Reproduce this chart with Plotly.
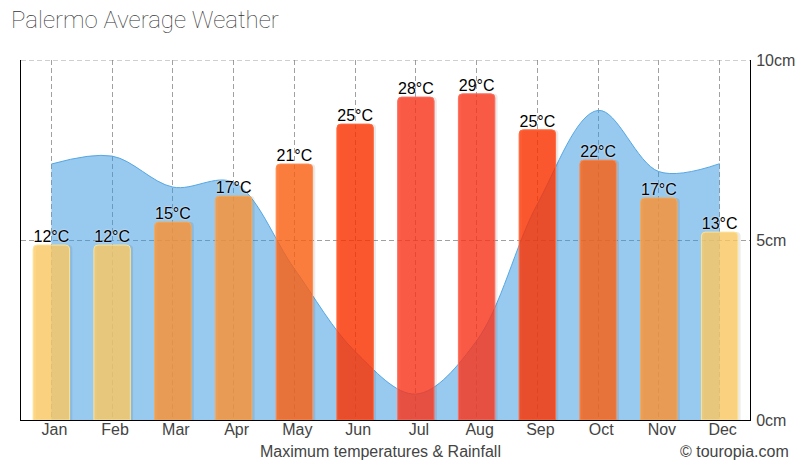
import plotly.graph_objects as go

months = ["Jan","Feb","Mar","Apr","May","Jun","Jul","Aug","Sep","Oct","Nov","Dec"]
rain_cm = [7.11,7.33,6.47,6.6,4.2,1.9,0.72,2.2,6.0,8.6,6.9,7.12]
bar_heights = [4.86,4.86,5.5,6.22,7.11,8.22,8.97,9.06,8.06,7.22,6.17,5.22]
temp_labels = ["12°C","12°C","15°C","17°C","21°C","25°C","28°C","29°C","25°C","22°C","17°C","13°C"]
rain_ticks = [0,5,10]
rain_tick_labels = ["0cm","5cm","10cm"]
bar_colors = ["rgba(253,203,100,.8)","rgba(253,203,100,.8)","rgba(255,148,50,.8)","rgba(255,148,50,.8)",
              "rgba(255,97,18,.8)","rgba(255,50,0,.8)","rgba(252,54,28,.8)","rgba(252,54,28,.8)",
              "rgba(255,50,0,.8)","rgba(255,97,18,.8)","rgba(255,148,50,.8)","rgba(253,203,100,.8)"]
edge_colors = ["#FBE49B","#FBE49B","#F2AC5C","#F2AC5C","#FF8C50","#FF6A3C","#FB7060","#FB7060",
               "#FF6A3C","#FF8C50","#F2AC5C","#FBE49B"]

GRID = "rgba(120,120,120,.7)"
TXT = "#444"
LABEL_LIFT = 0.19
fig = go.Figure()
fig.add_trace(go.Scatter(x=months, y=rain_cm, mode="lines", line=dict(shape="spline", smoothing=1, color="#55A8E4", width=1),
                         fill="tozeroy", fillcolor="rgba(49,147,224,.5)", hoverinfo="skip", showlegend=False))
fig.add_trace(go.Bar(x=months, y=bar_heights, xaxis="x2", yaxis="y2", width=0.6, offset=-0.255,
                     marker=dict(color="rgba(0,0,0,.08)", line=dict(width=0), cornerradius=4), showlegend=False, hoverinfo="skip"))
fig.add_trace(go.Bar(x=months, y=bar_heights, xaxis="x2", yaxis="y2", width=0.6, offset=-0.3,
                     marker=dict(color=bar_colors, line=dict(color=edge_colors, width=1), cornerradius=4),
                     showlegend=False, hoverinfo="skip"))
fig.add_trace(go.Scatter(x=months, y=[h + LABEL_LIFT for h in bar_heights], xaxis="x2", yaxis="y2", mode="text",
                         text=temp_labels, textposition="middle center", cliponaxis=False,
                         textfont=dict(family="Liberation Sans", size=16, color="#000", shadow="0 0 2px #fff"),
                         showlegend=False, hoverinfo="skip"))
ax_common = dict(type="category", categoryorder="array", categoryarray=months, range=[-0.5, 11.5])
fig.update_layout(
    width=810, height=470, autosize=False, margin=dict(l=21, r=60, t=60, b=50),
    paper_bgcolor="#fff", plot_bgcolor="#fff", barmode="overlay",
    font=dict(family="Liberation Sans", color=TXT, size=16),
    xaxis=dict(**ax_common, showline=True, linecolor="#000", linewidth=1, showgrid=True, gridcolor=GRID, griddash="5px,3px",
               gridwidth=1, ticks="", ticklabelshift=3, ticklabelstandoff=-5, zeroline=False,
               tickfont=dict(size=16, color=TXT)),
    xaxis2=dict(**ax_common, overlaying="x", visible=False),
    yaxis=dict(range=[0,10], tickmode="array", tickvals=rain_ticks, ticktext=rain_tick_labels, side="right", showline=True, mirror=True, linecolor="#000",
               linewidth=1, showgrid=True, gridcolor=GRID, griddash="5px,3px", gridwidth=1, zeroline=False, ticks="",
               ticklabelstandoff=2, tickfont=dict(size=16, color=TXT)),
    yaxis2=dict(range=[0,10], overlaying="y", visible=False),
    shapes=[dict(type="line", xref="paper", x0=0, x1=1, yref="y", y0=rain_ticks[-1], y1=rain_ticks[-1], layer="below",
                 line=dict(color=GRID, width=1, dash="5px,3px"))],
    annotations=[
        dict(text="Palermo Average Weather", xref="paper", yref="paper", x=0, xshift=-12, y=1, yshift=24, xanchor="left", yanchor="bottom",
             showarrow=False, font=dict(family="Roboto", size=24, color="#333", weight=100)),
        dict(text="Maximum temperatures & Rainfall", xref="paper", yref="paper", x=0.5, xshift=-5, y=0, yshift=-31, xanchor="center", yanchor="middle",
             showarrow=False, font=dict(size=16, color=TXT)),
        dict(text="© touropia.com", xref="paper", yref="paper", x=1, xshift=41, y=0, yshift=-31, xanchor="right", yanchor="middle",
             showarrow=False, font=dict(size=16, color=TXT)),
    ],
)
fig.write_html("out.html", config=dict(displayModeBar=False), post_script="document.body.style.margin='0';")
